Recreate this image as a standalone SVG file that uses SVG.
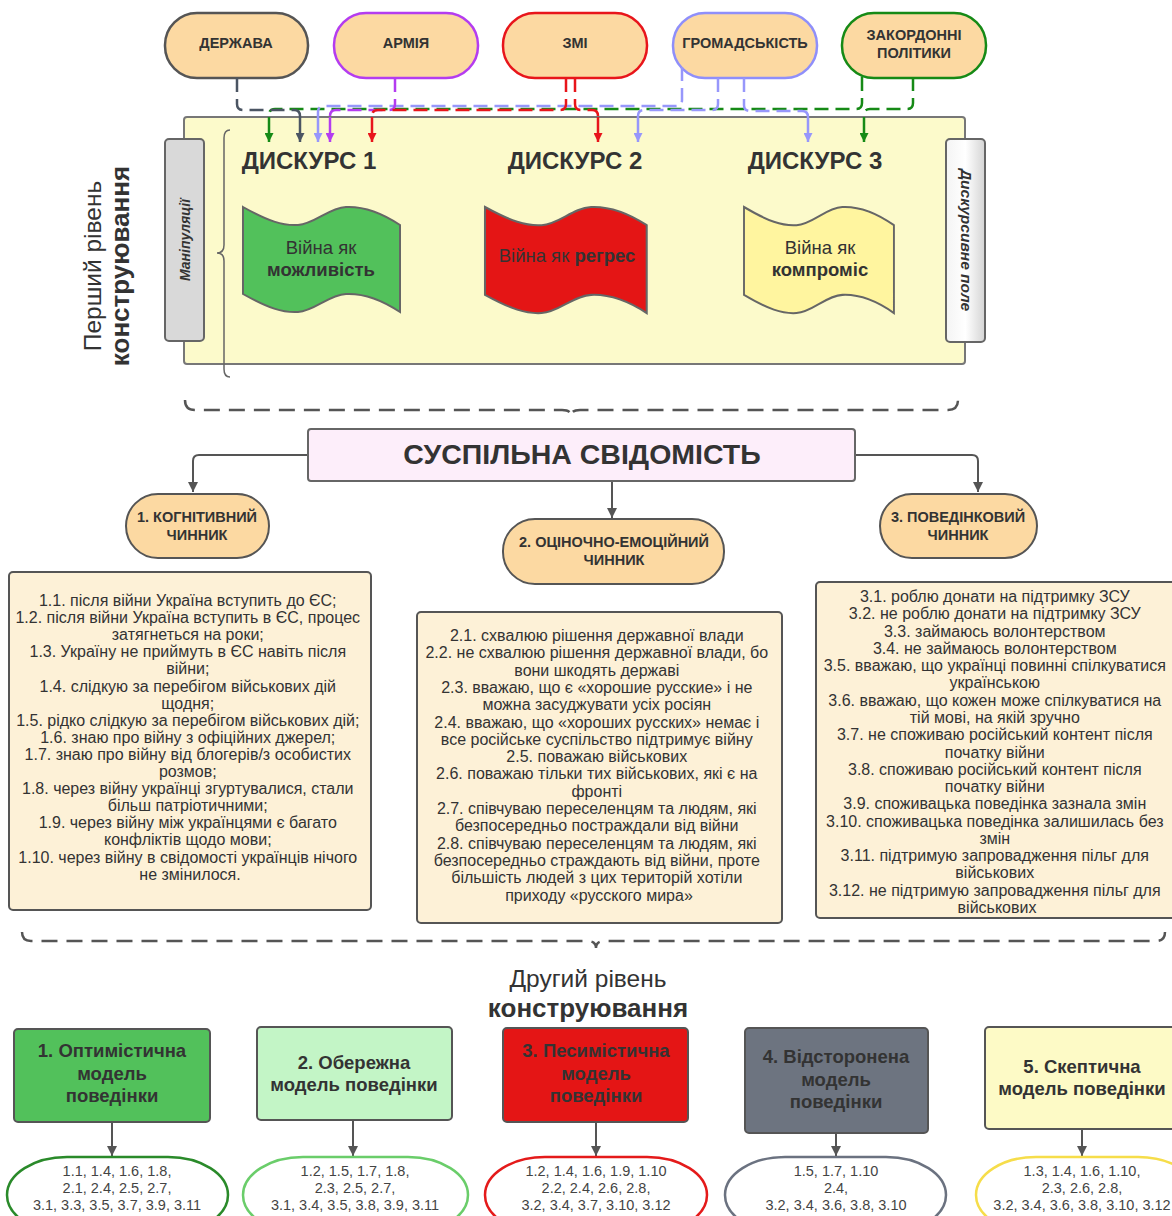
<svg xmlns="http://www.w3.org/2000/svg" width="1172" height="1216" viewBox="0 0 1172 1216">
<style>
text{font-family:"Liberation Sans",Arial,sans-serif;fill:#333}
.src{fill:#fcd9a2;stroke-width:2.5}
.srct{font-size:14.5px;font-weight:bold;text-anchor:middle}
.dash{fill:none;stroke-width:2.5;stroke-dasharray:14 7}
.drop{fill:none;stroke-width:2.5}
.conn{fill:none;stroke:#555;stroke-width:2}
.disc{font-size:24px;font-weight:bold;text-anchor:middle}
.flagt{font-size:18.5px;text-anchor:middle}
.fac{fill:#fcd9a2;stroke:#555;stroke-width:2}
.fact{font-size:14.5px;font-weight:bold;text-anchor:middle}
.list{fill:#fdf1d7;stroke:#555;stroke-width:2}
.lt{font-size:16px;text-anchor:middle}
.mod{stroke:#555;stroke-width:2}
.modt{font-size:18.5px;font-weight:bold;text-anchor:middle}
.ell{fill:#fff;stroke-width:2.5}
.et{font-size:14.5px;text-anchor:middle;fill:#444}
.brace{fill:none;stroke:#555;stroke-width:2.5;stroke-dasharray:16 9}
</style>
<defs>
<marker id="mGray" viewBox="0 0 10 10" refX="10" refY="5" markerUnits="userSpaceOnUse" markerWidth="11" markerHeight="9" orient="auto"><path d="M0,0L10,5L0,10z" fill="#4b5563"/></marker>
<marker id="mPurple" viewBox="0 0 10 10" refX="10" refY="5" markerUnits="userSpaceOnUse" markerWidth="11" markerHeight="9" orient="auto"><path d="M0,0L10,5L0,10z" fill="#b43cf0"/></marker>
<marker id="mRed" viewBox="0 0 10 10" refX="10" refY="5" markerUnits="userSpaceOnUse" markerWidth="11" markerHeight="9" orient="auto"><path d="M0,0L10,5L0,10z" fill="#e8151b"/></marker>
<marker id="mBlue" viewBox="0 0 10 10" refX="10" refY="5" markerUnits="userSpaceOnUse" markerWidth="11" markerHeight="9" orient="auto"><path d="M0,0L10,5L0,10z" fill="#9797fb"/></marker>
<marker id="mGreen" viewBox="0 0 10 10" refX="10" refY="5" markerUnits="userSpaceOnUse" markerWidth="11" markerHeight="9" orient="auto"><path d="M0,0L10,5L0,10z" fill="#168a16"/></marker>
<marker id="mDark" viewBox="0 0 10 10" refX="10" refY="5" markerUnits="userSpaceOnUse" markerWidth="11" markerHeight="10" orient="auto"><path d="M0,0L10,5L0,10z" fill="#555"/></marker>
<linearGradient id="tabGrad" x1="0" y1="0" x2="1" y2="0">
<stop offset="0" stop-color="#f4f4f4"/><stop offset="0.5" stop-color="#ffffff"/><stop offset="1" stop-color="#d4d4d4"/>
</linearGradient>
<path id="flag" d="M0,0 C25,14 40,19 55,18 C72,17 85,1 103,0 C125,-1 145,10 157,18 L157,105 C145,97 125,86 103,87 C85,88 72,104 55,105 C40,106 25,101 0,87 Z"/>
</defs>

<rect x="0" y="0" width="1172" height="1216" fill="#fff"/>

<g id="discourse-field">
<rect x="184" y="117" width="781" height="247" rx="3" fill="#fcfacb" stroke="#777" stroke-width="2"/>
<path d="M230,130 Q224,130 224,138 L224,245 Q224,253 217,253 Q224,253 224,261 L224,369 Q224,377 230,377" fill="none" stroke="#666" stroke-width="1.5"/>
</g>

<g id="tab-manipulations">
<rect x="165" y="139" width="39" height="202" rx="4" fill="#d9d9d9" stroke="#666" stroke-width="2"/>
<text transform="translate(190,240) rotate(-90)" text-anchor="middle" font-size="14" font-weight="bold" font-style="italic">Маніпуляції</text>
</g>

<g id="tab-field">
<rect x="946" y="139" width="39" height="203" rx="4" fill="url(#tabGrad)" stroke="#666" stroke-width="2"/>
<text transform="translate(961,240) rotate(90)" text-anchor="middle" font-size="15.5" font-weight="bold" font-style="italic">Дискурсивне поле</text>
</g>

<g id="level1-label">
<text transform="translate(101,266) rotate(-90)" text-anchor="middle" font-size="24.5">Перший рівень</text>
<text transform="translate(129,266) rotate(-90)" text-anchor="middle" font-size="26" font-weight="bold">конструювання</text>
</g>

<g id="src-derzhava"><rect class="src" x="165" y="13" width="143" height="65" rx="32" stroke="#555"/><text class="srct" x="236" y="48">ДЕРЖАВА</text></g>
<g id="src-armiya"><rect class="src" x="334" y="13" width="144" height="65" rx="32" stroke="#b43cf0"/><text class="srct" x="406" y="48">АРМІЯ</text></g>
<g id="src-zmi"><rect class="src" x="503" y="13" width="144" height="65" rx="32" stroke="#e8151b"/><text class="srct" x="575" y="48">ЗМІ</text></g>
<g id="src-hromadskist"><rect class="src" x="673" y="13" width="144" height="65" rx="32" stroke="#8f8ffa"/><text class="srct" x="745" y="48">ГРОМАДСЬКІСТЬ</text></g>
<g id="src-zakordonni"><rect class="src" x="842" y="13" width="144" height="65" rx="32" stroke="#168a16"/><text class="srct" x="914" y="40">ЗАКОРДОННІ</text><text class="srct" x="914" y="58">ПОЛІТИКИ</text></g>

<g id="discourse-1">
<text class="disc" x="309" y="169">ДИСКУРС 1</text>
<use href="#flag" transform="translate(243,207)" fill="#52c15b" stroke="#666" stroke-width="2"/>
<text class="flagt" x="321" y="254">Війна як</text>
<text class="flagt" x="321" y="276" font-weight="bold">можливість</text>
</g>
<g id="discourse-2">
<text class="disc" x="575" y="169">ДИСКУРС 2</text>
<use href="#flag" transform="translate(485,207) scale(1.03,1.01)" fill="#e41515" stroke="#666" stroke-width="2"/>
<text class="flagt" x="567" y="262" fill="#3a2a2a">Війна як <tspan font-weight="bold">регрес</tspan></text>
</g>
<g id="discourse-3">
<text class="disc" x="815" y="169">ДИСКУРС 3</text>
<use href="#flag" transform="translate(744,207) scale(0.955,1.01)" fill="#fff59f" stroke="#666" stroke-width="2"/>
<text class="flagt" x="820" y="254">Війна як</text>
<text class="flagt" x="820" y="276" font-weight="bold">компроміс</text>
</g>

<g id="connectors">
<path class="dash" stroke="#168a16" d="M862,77 V103 Q862,109 856,109 H275 Q269,109 269,115 V117"/>
<path class="drop" stroke="#168a16" d="M269,117 V142" marker-end="url(#mGreen)"/>
<path class="dash" stroke="#168a16" d="M913,77 V103 Q913,109 907,109 H870 Q864,109 864,115 V117"/>
<path class="drop" stroke="#168a16" d="M864,117 V142" marker-end="url(#mGreen)"/>

<path class="dash" stroke="#9797fb" d="M682,67 V100 Q682,106 676,106 H324 Q318,106 318,112 V117"/>
<path class="drop" stroke="#9797fb" d="M318,117 V142" marker-end="url(#mBlue)"/>
<path class="dash" stroke="#9797fb" d="M718,78 V104 Q718,110 712,110 H644 Q638,110 638,116 V117"/>
<path class="drop" stroke="#9797fb" d="M638,117 V142" marker-end="url(#mBlue)"/>
<path class="dash" stroke="#9797fb" d="M744,78 V105 Q744,111 750,111 H802 Q808,111 808,117"/>
<path class="drop" stroke="#9797fb" d="M808,117 V142" marker-end="url(#mBlue)"/>

<path class="dash" stroke="#4b5563" d="M237,78 V104 Q237,110 243,110 H294 Q300,110 300,116 V117"/>
<path class="drop" stroke="#4b5563" d="M300,117 V142" marker-end="url(#mGray)"/>

<path class="dash" stroke="#b43cf0" d="M395,78 V104 Q395,110 389,110 H336 Q330,110 330,116 V117"/>
<path class="drop" stroke="#b43cf0" d="M330,117 V142" marker-end="url(#mPurple)"/>

<path class="dash" stroke="#e8151b" d="M566,78 V104 Q566,110 560,110 H378 Q372,110 372,116 V117"/>
<path class="drop" stroke="#e8151b" d="M372,117 V142" marker-end="url(#mRed)"/>
<path class="dash" stroke="#e8151b" d="M575,78 V104 Q575,110 581,110 H592 Q598,110 598,116 V117"/>
<path class="drop" stroke="#e8151b" d="M598,117 V142" marker-end="url(#mRed)"/>

<path class="brace" d="M185,400 Q185,410 195,410 L562,410 Q571,410 571,416 Q571,410 580,410 L948,410 Q958,410 958,400"/>

<path class="conn" d="M308,455 H199 Q193,455 193,461 V492" marker-end="url(#mDark)"/>
<path class="conn" d="M612,481 V518" marker-end="url(#mDark)"/>
<path class="conn" d="M855,455 H972 Q978,455 978,461 V492" marker-end="url(#mDark)"/>

<path class="brace" d="M22,932 Q22,941 31,941 L587,941 Q596,941 596,948 Q596,941 605,941 L1156,941 Q1165,941 1165,932"/>

<path class="conn" d="M112,1122 V1156" marker-end="url(#mDark)"/>
<path class="conn" d="M353,1120 V1156" marker-end="url(#mDark)"/>
<path class="conn" d="M596,1122 V1156" marker-end="url(#mDark)"/>
<path class="conn" d="M836,1133 V1156" marker-end="url(#mDark)"/>
<path class="conn" d="M1082,1129 V1156" marker-end="url(#mDark)"/>
</g>

<g id="public-consciousness">
<rect x="308" y="429" width="547" height="52" rx="3" fill="#fdeefa" stroke="#666" stroke-width="2"/>
<text x="582" y="464" text-anchor="middle" font-size="28.5" font-weight="bold">СУСПІЛЬНА СВІДОМІСТЬ</text>
</g>

<g id="factor-1"><rect class="fac" x="126" y="494" width="143" height="64" rx="32"/><text class="fact" x="197" y="522">1. КОГНІТИВНИЙ</text><text class="fact" x="197" y="540">ЧИННИК</text></g>
<g id="factor-2"><rect class="fac" x="503" y="519" width="221" height="65" rx="32"/><text class="fact" x="614" y="547">2. ОЦІНОЧНО-ЕМОЦІЙНИЙ</text><text class="fact" x="614" y="565">ЧИННИК</text></g>
<g id="factor-3"><rect class="fac" x="880" y="494" width="157" height="64" rx="32"/><text class="fact" x="958" y="522">3. ПОВЕДІНКОВИЙ</text><text class="fact" x="958" y="540">ЧИННИК</text></g>

<g id="list-1">
<rect class="list" x="9" y="572" width="362" height="338" rx="4"/>
<text class="lt" y="606">
<tspan x="190">1.1. після війни Україна вступить до ЄС;</tspan>
<tspan x="190" dy="17.1">1.2. після війни Україна вступить в ЄС, процес</tspan>
<tspan x="190" dy="17.1">затягнеться на роки;</tspan>
<tspan x="190" dy="17.1">1.3. Україну не приймуть в ЄС навіть після</tspan>
<tspan x="190" dy="17.1">війни;</tspan>
<tspan x="190" dy="17.1">1.4. слідкую за перебігом військових дій</tspan>
<tspan x="190" dy="17.1">щодня;</tspan>
<tspan x="190" dy="17.1">1.5. рідко слідкую за перебігом військових дій;</tspan>
<tspan x="190" dy="17.1">1.6. знаю про війну з офіційних джерел;</tspan>
<tspan x="190" dy="17.1">1.7. знаю про війну від блогерів/з особистих</tspan>
<tspan x="190" dy="17.1">розмов;</tspan>
<tspan x="190" dy="17.1">1.8. через війну українці згуртувалися, стали</tspan>
<tspan x="190" dy="17.1">більш патріотичними;</tspan>
<tspan x="190" dy="17.1">1.9. через війну між українцями є багато</tspan>
<tspan x="190" dy="17.1">конфліктів щодо мови;</tspan>
<tspan x="190" dy="17.1">1.10. через війну в свідомості українців нічого</tspan>
<tspan x="190" dy="17.1">не змінилося.</tspan>
</text>
</g>

<g id="list-2">
<rect class="list" x="417" y="612" width="365" height="311" rx="4"/>
<text class="lt" y="641">
<tspan x="599">2.1. схвалюю рішення державної влади</tspan>
<tspan x="599" dy="17.3">2.2. не схвалюю рішення державної влади, бо</tspan>
<tspan x="599" dy="17.3">вони шкодять державі</tspan>
<tspan x="599" dy="17.3">2.3. вважаю, що є «хорошие русские» і не</tspan>
<tspan x="599" dy="17.3">можна засуджувати усіх росіян</tspan>
<tspan x="599" dy="17.3">2.4. вважаю, що «хороших русских» немає і</tspan>
<tspan x="599" dy="17.3">все російське суспільство підтримує війну</tspan>
<tspan x="599" dy="17.3">2.5. поважаю військових</tspan>
<tspan x="599" dy="17.3">2.6. поважаю тільки тих військових, які є на</tspan>
<tspan x="599" dy="17.3">фронті</tspan>
<tspan x="599" dy="17.3">2.7. співчуваю переселенцям та людям, які</tspan>
<tspan x="599" dy="17.3">безпосередньо постраждали від війни</tspan>
<tspan x="599" dy="17.3">2.8. співчуваю переселенцям та людям, які</tspan>
<tspan x="599" dy="17.3">безпосередньо страждають від війни, проте</tspan>
<tspan x="599" dy="17.3">більшість людей з цих територій хотіли</tspan>
<tspan x="599" dy="17.3">приходу «русского мира»</tspan>
</text>
</g>

<g id="list-3">
<rect class="list" x="816" y="582" width="364" height="336" rx="4"/>
<text class="lt" y="602">
<tspan x="997">3.1. роблю донати на підтримку ЗСУ</tspan>
<tspan x="997" dy="17.28">3.2. не роблю донати на підтримку ЗСУ</tspan>
<tspan x="997" dy="17.28">3.3. займаюсь волонтерством</tspan>
<tspan x="997" dy="17.28">3.4. не займаюсь волонтерством</tspan>
<tspan x="997" dy="17.28">3.5. вважаю, що українці повинні спілкуватися</tspan>
<tspan x="997" dy="17.28">українською</tspan>
<tspan x="997" dy="17.28">3.6. вважаю, що кожен може спілкуватися на</tspan>
<tspan x="997" dy="17.28">тій мові, на якій зручно</tspan>
<tspan x="997" dy="17.28">3.7. не споживаю російський контент після</tspan>
<tspan x="997" dy="17.28">початку війни</tspan>
<tspan x="997" dy="17.28">3.8. споживаю російський контент після</tspan>
<tspan x="997" dy="17.28">початку війни</tspan>
<tspan x="997" dy="17.28">3.9. споживацька поведінка зазнала змін</tspan>
<tspan x="997" dy="17.28">3.10. споживацька поведінка залишилась без</tspan>
<tspan x="997" dy="17.28">змін</tspan>
<tspan x="997" dy="17.28">3.11. підтримую запровадження пільг для</tspan>
<tspan x="997" dy="17.28">військових</tspan>
<tspan x="997" dy="17.28">3.12. не підтримую запровадження пільг для</tspan>
<tspan x="997" dy="17.28">військових</tspan>
</text>
</g>

<g id="level2-label">
<text x="588" y="987" text-anchor="middle" font-size="24.5">Другий рівень</text>
<text x="588" y="1017" text-anchor="middle" font-size="26" font-weight="bold">конструювання</text>
</g>

<g id="model-1">
<rect class="mod" x="14" y="1029" width="196" height="93" rx="4" fill="#52c15b"/>
<text class="modt" x="112" y="1057">1. Оптимістична</text><text class="modt" x="112" y="1080">модель</text><text class="modt" x="112" y="1102">поведінки</text>
</g>
<g id="model-2">
<rect class="mod" x="257" y="1027" width="195" height="93" rx="4" fill="#c3f5c6"/>
<text class="modt" x="354" y="1069">2. Обережна</text><text class="modt" x="354" y="1091">модель поведінки</text>
</g>
<g id="model-3">
<rect class="mod" x="503" y="1028" width="185" height="94" rx="4" fill="#e41515"/>
<text class="modt" x="596" y="1057" fill="#3a2a2a">3. Песимістична</text><text class="modt" x="596" y="1080" fill="#3a2a2a">модель</text><text class="modt" x="596" y="1102" fill="#3a2a2a">поведінки</text>
</g>
<g id="model-4">
<rect class="mod" x="745" y="1028" width="183" height="105" rx="4" fill="#6d7480"/>
<text class="modt" x="836" y="1063">4. Відсторонена</text><text class="modt" x="836" y="1086">модель</text><text class="modt" x="836" y="1108">поведінки</text>
</g>
<g id="model-5">
<rect class="mod" x="985" y="1027" width="196" height="102" rx="4" fill="#fdfac6"/>
<text class="modt" x="1082" y="1073">5. Скептична</text><text class="modt" x="1082" y="1095">модель поведінки</text>
</g>

<g id="set-1">
<rect class="ell" x="7" y="1157" width="221" height="76" rx="60" ry="38" stroke="#2a8a2a"/>
<text class="et" x="117" y="1176">1.1, 1.4, 1.6, 1.8,</text><text class="et" x="117" y="1193">2.1, 2.4, 2.5, 2.7,</text><text class="et" x="117" y="1210">3.1, 3.3, 3.5, 3.7, 3.9, 3.11</text>
</g>
<g id="set-2">
<rect class="ell" x="243" y="1157" width="225" height="76" rx="60" ry="38" stroke="#6acd6a"/>
<text class="et" x="355" y="1176">1.2, 1.5, 1.7, 1.8,</text><text class="et" x="355" y="1193">2.3, 2.5, 2.7,</text><text class="et" x="355" y="1210">3.1, 3.4, 3.5, 3.8, 3.9, 3.11</text>
</g>
<g id="set-3">
<rect class="ell" x="485" y="1157" width="222" height="76" rx="60" ry="38" stroke="#e41a1a"/>
<text class="et" x="596" y="1176">1.2, 1.4, 1.6, 1.9, 1.10</text><text class="et" x="596" y="1193">2.2, 2.4, 2.6, 2.8,</text><text class="et" x="596" y="1210">3.2, 3.4, 3.7, 3.10, 3.12</text>
</g>
<g id="set-4">
<rect class="ell" x="725" y="1157" width="221" height="76" rx="60" ry="38" stroke="#6b7280"/>
<text class="et" x="836" y="1176">1.5, 1.7, 1.10</text><text class="et" x="836" y="1193">2.4,</text><text class="et" x="836" y="1210">3.2, 3.4, 3.6, 3.8, 3.10</text>
</g>
<g id="set-5">
<rect class="ell" x="976" y="1157" width="222" height="76" rx="60" ry="38" stroke="#f6dd4a"/>
<text class="et" x="1082" y="1176">1.3, 1.4, 1.6, 1.10,</text><text class="et" x="1082" y="1193">2.3, 2.6, 2.8,</text><text class="et" x="1082" y="1210">3.2, 3.4, 3.6, 3.8, 3.10, 3.12</text>
</g>
</svg>
